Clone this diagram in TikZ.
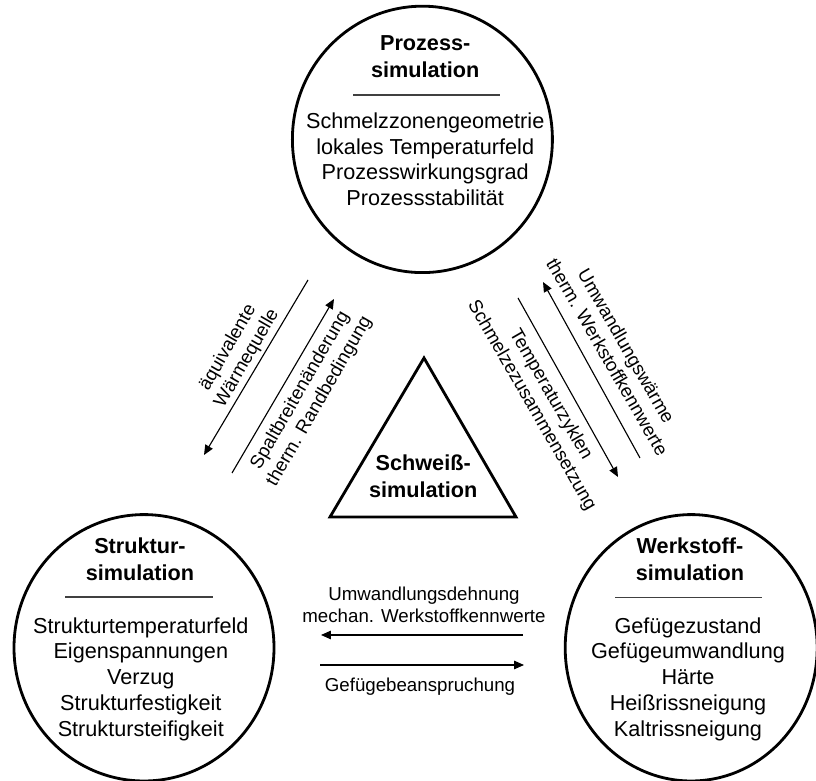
\documentclass[tikz,border=0pt]{standalone}
\usepackage{fontspec}
\setmainfont{Liberation Sans}
\usetikzlibrary{arrows.meta}

\begin{document}
\begin{tikzpicture}[
    sim/.style={line width=2pt},
    rule/.style={line width=1pt, black!75},
    flow/.style={line width=0.8pt, -{Triangle[length=7pt,width=6pt]}},
    head/.style={align=center, inner sep=0pt, font=\fontsize{15.4}{19.2}\selectfont\bfseries},
    items/.style={align=center, inner sep=0pt, font=\fontsize{15.4}{18.3}\selectfont},
    lbl/.style={align=center, inner sep=0pt, font=\fontsize{13.3}{15.6}\selectfont}
]
    \useasboundingbox (0,0) rectangle (20.4,19.525);

    % 1. Define Coordinates
    \coordinate (P) at (10.56,16.04);
    \coordinate (S) at (3.6,3.33);
    \coordinate (W) at (17.28,3.33);

    \coordinate (T1) at (10.6,10.575);
    \coordinate (T2) at (8.25,6.6);
    \coordinate (T3) at (12.9,6.6);

    % 2. Draw the three simulation circles and the triangle
    \draw[sim] (P) ellipse [x radius=3.25, y radius=3.33];
    \draw[sim] (S) ellipse [x radius=3.25, y radius=3.33];
    \draw[sim] (W) ellipse [x radius=3.15, y radius=3.33];
    \draw[sim] (T1) -- (T2) -- (T3) -- cycle;

    % 3. Process simulation (top)
    \node[head] (prozkopf) at (10.63,18.12) {Prozess-\\simulation};
    \coordinate (pr1) at (8.83,17.15);
    \coordinate (pr2) at (12.5,17.15);
    \draw[rule] (pr1) -- (pr2);
    \node[items] (prozliste) at (10.63,15.54) {Schmelzzonengeometrie\\lokales Temperaturfeld\\Prozesswirkungsgrad\\Prozessstabilität};

    % 4. Structure simulation (bottom left)
    \node[head] (strkopf) at (3.5,5.55) {Struktur-\\simulation};
    \coordinate (sr1) at (1.625,4.6);
    \coordinate (sr2) at (5.325,4.6);
    \draw[rule] (sr1) -- (sr2);
    \node[items] (strliste) at (3.52,2.55) {Strukturtemperaturfeld\\Eigenspannungen\\Verzug\\Strukturfestigkeit\\Struktursteifigkeit};

    % 5. Material simulation (bottom right)
    \node[head] (werkkopf) at (17.25,5.55) {Werkstoff-\\simulation};
    \coordinate (wr1) at (15.375,4.58);
    \coordinate (wr2) at (19.05,4.58);
    \draw[rule] (wr1) -- (wr2);
    \node[items] (werkliste) at (17.2,2.55) {Gefügezustand\\Gefügeumwandlung\\Härte\\Heißrissneigung\\Kaltrissneigung};

    % 6. Welding simulation (centre)
    \node[head] (schweiss) at (10.58,7.625) {Schweiß-\\simulation};

    % 7. Arrows between the simulations
    \coordinate (a1) at (7.7,12.525);   \coordinate (a2) at (5.1,8.15);
    \coordinate (b1) at (5.8,7.7);      \coordinate (b2) at (8.35,12.05);
    \coordinate (c1) at (16.0,8.075);   \coordinate (c2) at (13.575,12.475);
    \coordinate (d1) at (12.95,12.075); \coordinate (d2) at (15.45,7.6);
    \coordinate (e1) at (13.075,3.65);  \coordinate (e2) at (8.025,3.65);
    \coordinate (f1) at (8.0,2.9);      \coordinate (f2) at (13.1,2.9);

    \draw[flow] (a1) -- (a2);
    \draw[flow] (b1) -- (b2);
    \draw[flow] (c1) -- (c2);
    \draw[flow] (d1) -- (d2);
    \draw[flow] (e1) -- (e2);
    \draw[flow] (f1) -- (f2);

    % 8. Arrow labels
    \node[lbl, rotate=60] (waerme) at (5.94,10.70) {äquivalente\\Wärmequelle};
    \node[lbl, rotate=60] (spalt) at (7.75,9.625) {Spaltbreitenänderung\\therm. Randbedingung};
    \node[lbl, rotate=-60] (umw) at (15.425,10.74) {Umwandlungswärme\\therm. Werkstoffkennwerte};
    \node[lbl, rotate=-60] (temp) at (13.525,9.525) {Temperaturzyklen\\Schmelzezusammensetzung};
    \node[lbl] (dehnung) at (10.6,4.41) {Umwandlungsdehnung\\mechan. Werkstoffkennwerte};
    \node[lbl] (gefuege) at (10.5,2.36) {Gefügebeanspruchung};

\end{tikzpicture}
\end{document}
